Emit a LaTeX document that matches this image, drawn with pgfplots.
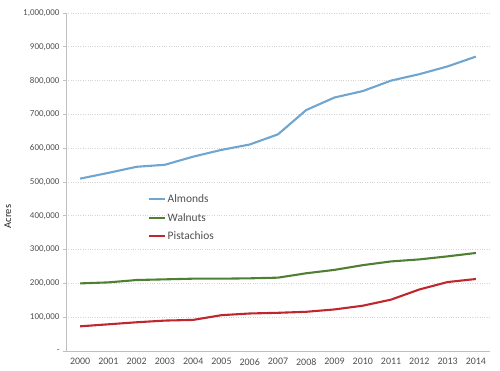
\documentclass[border=0pt]{standalone}
\usepackage{pgfplots}
\pgfplotsset{compat=1.18}
\usepackage{fontspec}
\setmainfont{Carlito}
\definecolor{almond}{HTML}{6FA5CE}
\definecolor{walnut}{HTML}{4E7F32}
\definecolor{pist}{HTML}{C0272D}
\definecolor{gridc}{HTML}{D4D4D4}
\definecolor{axc}{HTML}{BFBFBF}
\definecolor{txt}{HTML}{505050}
\begin{document}
\begin{tikzpicture}
\path[use as bounding box] (-66bp,-20bp) rectangle (434bp,351bp);
\begin{axis}[
  at={(0,0)}, anchor=south west,
  scale only axis, width=424bp, height=338bp,
  xmin=-0.5, xmax=14.5, ymin=0, ymax=1000000,
  scaled y ticks=false,
  xtick={0,...,14},
  xticklabels={2000,2001,2002,2003,2004,2005,2006,2007,2008,2009,2010,2011,2012,2013,2014},
  minor xtick={-0.5,0.5,...,14.5},
  ytick={0,100000,...,1000000},
  yticklabels={{-},{100,000},{200,000},{300,000},{400,000},{500,000},{600,000},{700,000},{800,000},{900,000},{1,000,000}},
  axis x line*=bottom, axis y line*=left,
  axis line style={axc, line width=0.8pt},
  x axis line style={-}, y axis line style={-},
  tick align=outside,
  xtick style={draw=none},
  minor x tick style={axc, line width=0.6pt},
  minor tick length=3bp,
  ytick style={axc, line width=0.6pt},
  major tick length=3bp,
  ymajorgrids, grid style={gridc, dotted, line width=0.7pt},
  x tick label style={font=\fontsize{10}{12}\selectfont, text=txt, yshift=-1bp},
  y tick label style={font=\fontsize{9}{11}\selectfont, text=txt, inner sep=1.5bp, xshift=-1.8bp},
  ylabel={Acres},
  ylabel style={at={(axis description cs:-0.137,0.398)}, anchor=center, font=\fontsize{10.5}{12}\selectfont, text=black!85},
  legend style={at={(rel axis cs:0.185,0.475)}, anchor=north west, draw=none, fill=none,
    font=\fontsize{11.5}{13}\selectfont, text=txt, row sep=5bp,
    /tikz/every even column/.append style={column sep=0pt}},
  legend cell align=left,
  legend image code/.code={\draw[#1] (0bp,0bp) -- (16bp,0bp);},
  every axis plot/.append style={line width=2.1pt, line join=round},
]
\addplot[almond, no markers] coordinates {(0,510000) (1,527000) (2,545000) (3,551000) (4,575000) (5,595000) (6,611000) (7,641000) (8,713000) (9,750000) (10,769000) (11,800000) (12,819000) (13,842000) (14,871000)};
\addlegendentry{Almonds}
\addplot[walnut, no markers] coordinates {(0,200000) (1,203000) (2,210000) (3,212000) (4,214000) (5,214000) (6,215000) (7,217000) (8,230000) (9,240000) (10,254000) (11,265000) (12,271000) (13,280000) (14,290000)};
\addlegendentry{Walnuts}
\addplot[pist, no markers] coordinates {(0,73000) (1,79000) (2,85000) (3,90000) (4,92000) (5,106000) (6,111000) (7,113000) (8,116000) (9,123000) (10,134000) (11,152000) (12,182000) (13,204000) (14,213000)};
\addlegendentry{Pistachios}
\end{axis}
\end{tikzpicture}
\end{document}
